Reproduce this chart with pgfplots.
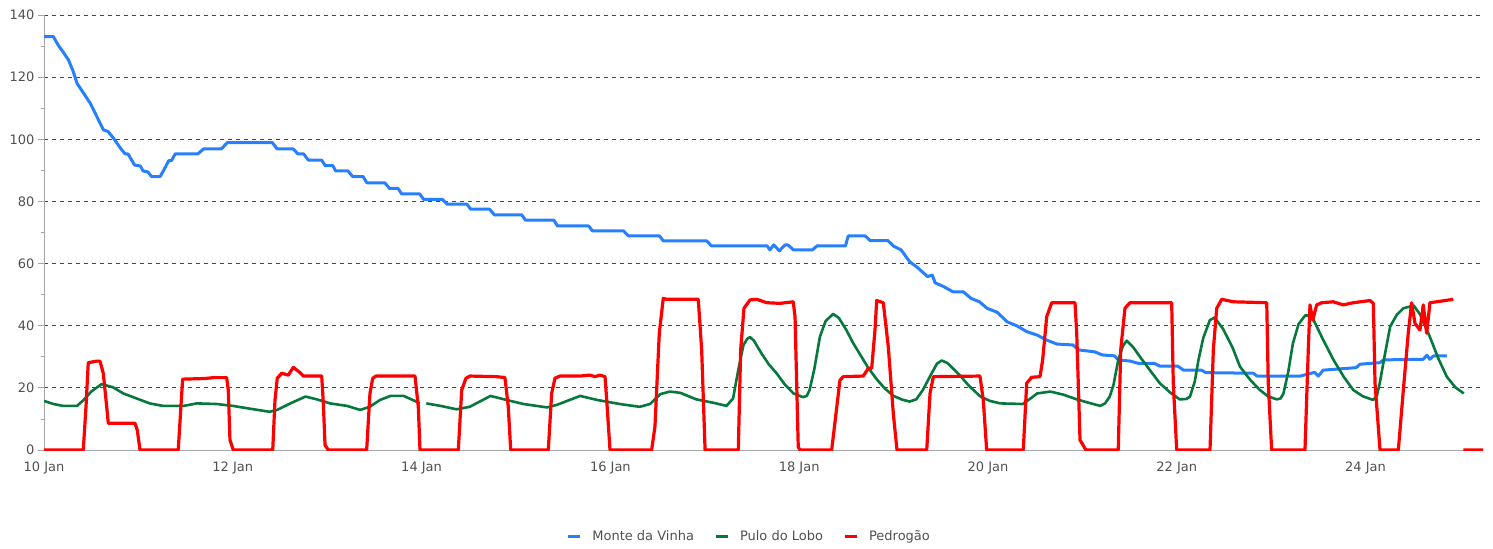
\documentclass[border=0pt]{standalone}
\usepackage{fontspec}
\setmainfont{DejaVu Sans}
\usepackage{pgfplots}
\pgfplotsset{compat=1.18}
\definecolor{cblue}{RGB}{38,127,255}
\definecolor{cgreen}{RGB}{5,120,60}
\definecolor{cred}{RGB}{255,0,0}
\definecolor{gridc}{RGB}{70,70,70}
\definecolor{axc}{RGB}{165,165,165}
\definecolor{txt}{RGB}{80,80,80}
\begin{document}
\begin{tikzpicture}
\begin{axis}[
  scale only axis, width=1439pt, height=435pt,
  xmin=0, xmax=15.244, ymin=0, ymax=140,
  axis x line*=bottom, axis y line*=left,
  axis line style={axc, line width=1pt},
  ytick={20,40,...,140}, minor ytick={10,30,...,130},
  extra y ticks={0}, extra y tick style={grid=none},
  ymajorgrids,
  major grid style={gridc, dash pattern=on 4pt off 4pt, line width=0.9pt},
  tick align=outside, major tick length=6pt, minor tick length=3.5pt,
  ytick style={axc, line width=0.8pt},
  xtick={0,2,...,14},
  xticklabels={10 Jan,12 Jan,14 Jan,16 Jan,18 Jan,20 Jan,22 Jan,24 Jan},
  xtick style={draw=none},
  ticklabel style={font=\fontsize{13}{15}\selectfont, text=txt},
  xticklabel style={yshift=-2pt},
  /pgf/number format/assume math mode=true,
  unbounded coords=jump,
  legend style={at={(0.490,-0.198)}, anchor=center, draw=none, fill=none,
    font=\fontsize{13}{15}\selectfont, text=txt,
    /tikz/every odd column/.append style={column sep=9pt},
    /tikz/every even column/.append style={column sep=18pt}},
  legend columns=3,
  legend image code/.code={\draw[#1, line width=3pt] (0pt,0pt) -- (12pt,0pt);},
  line join=round,
]
\coordinate (bl) at (rel axis cs:0,0);
\coordinate (tr) at (rel axis cs:1,1);

\addplot[cblue, line width=3pt] coordinates {
(0,133) (0.10,133) (0.15,130.3) (0.20,128.2) (0.26,125.5) (0.31,121.8) (0.35,118)
(0.42,114.8) (0.49,111.6) (0.56,107.3) (0.63,103) (0.68,102.5) (0.75,99.8) (0.81,97.1)
(0.86,95.3) (0.89,95.3) (0.96,91.7) (1.02,91.4) (1.05,89.8) (1.10,89.5) (1.14,88)
(1.23,88) (1.28,90.7) (1.32,93.1) (1.35,93.1) (1.39,95.3) (1.63,95.3) (1.69,96.9)
(1.88,96.9) (1.94,98.9) (2.42,98.9) (2.47,96.9) (2.64,96.9) (2.69,95.3) (2.75,95.3)
(2.80,93.3) (2.94,93.3) (2.98,91.5) (3.06,91.5) (3.09,89.8) (3.22,89.8) (3.27,88)
(3.38,88) (3.42,86) (3.61,86) (3.66,84.2) (3.75,84.2) (3.79,82.4) (3.98,82.4)
(4.02,80.7) (4.22,80.7) (4.27,79.1) (4.48,79.1) (4.52,77.5) (4.72,77.5) (4.77,75.7)
(5.06,75.7) (5.10,74.0) (5.40,74.0) (5.44,72.1) (5.77,72.1) (5.81,70.5) (6.14,70.5)
(6.19,68.9) (6.52,68.9) (6.56,67.3) (7.02,67.3) (7.07,65.7) (7.66,65.7) (7.69,64.4)
(7.73,66) (7.79,64.1) (7.85,66) (7.88,66) (7.94,64.4) (8.14,64.4) (8.19,65.7)
(8.49,65.7) (8.52,68.9) (8.70,68.9) (8.75,67.4) (8.94,67.4) (9.00,65.6) (9.08,64.4)
(9.17,60.6) (9.25,58.8) (9.36,55.8) (9.41,56.3) (9.44,53.8) (9.53,52.6) (9.63,50.9)
(9.74,50.9) (9.82,48.8) (9.91,47.7) (9.99,45.6) (10.10,44.3) (10.20,41.3) (10.31,39.9)
(10.41,38.1) (10.52,37) (10.62,35.4) (10.73,34.1) (10.90,33.8) (10.96,32.2) (11.13,31.6)
(11.21,30.6) (11.34,30.3) (11.38,29) (11.51,28.6) (11.59,27.9) (11.76,27.9) (11.82,27)
(12.01,27) (12.07,25.7) (12.26,25.7) (12.31,24.9) (12.81,24.7) (12.85,23.8) (13.31,23.8)
(13.46,25) (13.50,23.8) (13.55,25.7) (13.90,26.5) (13.94,27.6) (14.15,28.1) (14.19,29)
(14.61,29.2) (14.65,30.5) (14.68,29.2) (14.72,30.3) (14.86,30.3)
};
\addlegendentry{Monte da Vinha}

\addplot[cgreen, line width=2.6pt] coordinates {
(0,15.8) (0.10,14.8) (0.20,14.2) (0.35,14.2) (0.42,16.1) (0.50,18.8) (0.61,21.2)
(0.73,20.2) (0.84,18.2) (0.98,16.6) (1.12,15) (1.26,14.2) (1.48,14.2) (1.62,15)
(1.83,14.8) (2.00,14.2) (2.18,13.3) (2.39,12.3) (2.47,12.9) (2.61,15) (2.77,17.2)
(2.89,16.3) (3.03,15) (3.21,14.2) (3.35,12.9) (3.45,13.9) (3.56,16.1) (3.67,17.4)
(3.81,17.4) (3.95,15.5) (3.98,15)
(4.01,nan)
(4.05,15) (4.20,14.2) (4.37,13.1) (4.51,13.9) (4.73,17.4) (4.90,16.1) (5.08,14.8)
(5.33,13.7) (5.43,14.5) (5.68,17.4) (5.86,16.1) (6.10,14.8) (6.31,13.9) (6.42,14.8)
(6.53,18) (6.63,18.8) (6.74,18.4) (6.91,16.3) (7.09,15.2) (7.23,14.2) (7.30,16.6)
(7.35,25) (7.38,29.5) (7.41,33.8) (7.45,35.8) (7.48,36.3) (7.52,35.2) (7.60,31.1)
(7.68,27.5) (7.76,24.7) (7.85,21) (7.94,18.2) (8.04,17) (8.08,17.4) (8.11,19.3)
(8.16,26) (8.22,36.5) (8.28,41.5) (8.36,43.8) (8.42,42.5) (8.50,38.6) (8.57,34.5)
(8.64,31) (8.73,26.5) (8.82,22.8) (8.91,19.7) (9.00,17.4) (9.09,16.2) (9.17,15.6)
(9.24,16.3) (9.31,19.3) (9.40,24.5) (9.46,27.8) (9.51,28.8) (9.57,28) (9.70,24.1)
(9.80,20.6) (9.92,17.2) (10.02,15.8) (10.13,15) (10.37,14.8) (10.46,16.8) (10.52,18.2)
(10.66,18.8) (10.80,17.8) (10.94,16.3) (11.09,15) (11.19,14.2) (11.24,15) (11.29,17.2)
(11.33,21) (11.38,29) (11.43,33.5) (11.47,35.2) (11.54,33) (11.61,30) (11.72,25.5)
(11.82,21.5) (11.93,18.5) (12.03,16.3) (12.10,16.4) (12.14,17.2) (12.19,22) (12.23,29)
(12.28,36) (12.35,41.8) (12.40,42.6) (12.49,39) (12.59,33) (12.67,26.8) (12.78,22.5)
(12.88,19.3) (12.97,17.2) (13.06,16.3) (13.10,16.6) (13.13,18.2) (13.18,25) (13.23,34.3)
(13.29,40.5) (13.36,43.3) (13.40,43.3) (13.45,41.8) (13.55,35.5) (13.66,29) (13.77,23.5)
(13.87,19.3) (13.97,17.3) (14.08,16.1) (14.12,17.5) (14.15,21.5) (14.20,30) (14.26,39.7)
(14.33,43.5) (14.40,45.6) (14.51,46.5) (14.58,43.5) (14.68,36.5) (14.77,29.5) (14.86,23.6)
(14.95,20.2) (15.04,18.2)
};
\addlegendentry{Pulo do Lobo}

\addplot[cred, line width=3.2pt] coordinates {
(0,0) (0.416,0) (0.445,14) (0.469,28.1) (0.558,28.6) (0.593,28.6) (0.628,24.7)
(0.664,14) (0.681,8.6) (0.964,8.6) (0.988,6.4) (1.017,0) (1.422,0) (1.459,18.2)
(1.469,22.8) (1.70,23) (1.80,23.3) (1.935,23.3) (1.952,19.3) (1.970,3.2) (2.005,0) (2.423,0)
(2.447,16.1) (2.471,23.1) (2.518,24.7) (2.588,24.1) (2.641,26.6) (2.712,24.9) (2.747,23.8)
(2.942,23.8) (2.959,15) (2.977,1.6) (3.012,0) (3.418,0) (3.453,18.2) (3.482,23.1)
(3.517,23.8) (3.930,23.8) (3.965,14) (3.983,0) (4.389,0) (4.425,19.3) (4.470,23.1)
(4.513,23.8) (4.796,23.6) (4.883,23.3) (4.918,14) (4.944,0) (5.342,0) (5.378,18.2)
(5.413,23.1) (5.466,23.8) (5.678,23.8) (5.784,24.1) (5.837,23.6) (5.890,24.1) (5.943,23.6)
(5.961,16.1) (5.996,0) (6.437,0) (6.472,7.5) (6.518,37.6) (6.560,48.8) (6.596,48.5)
(6.931,48.5) (6.967,32.2) (7.003,0) (7.355,0) (7.380,32.2) (7.415,45.6) (7.479,48.3)
(7.550,48.5) (7.656,47.4) (7.797,47.2) (7.937,47.7) (7.956,42.9) (7.990,1) (8.008,0)
(8.344,0) (8.432,22.5) (8.467,23.6) (8.679,23.8) (8.732,26.3) (8.768,26.3) (8.803,38.6)
(8.821,48.1) (8.891,47.4) (8.944,33.2) (8.997,11.8) (9.036,0) (9.351,0) (9.386,18.2)
(9.421,23.6) (9.915,23.8) (9.950,16.1) (9.986,0) (10.374,0) (10.410,21.5) (10.463,23.4)
(10.551,23.6) (10.579,29) (10.622,42.9) (10.675,47.4) (10.922,47.4) (10.940,37.6)
(10.975,3.2) (11.038,0) (11.380,0) (11.406,32.2) (11.451,45.6) (11.504,47.4) (11.946,47.4)
(11.963,21.5) (11.999,0) (12.352,0) (12.387,32.2) (12.423,45.6) (12.476,48.5) (12.599,47.7)
(12.953,47.4) (12.969,21.5) (13.005,0) (13.358,0) (13.393,32.2) (13.411,46.7) (13.440,41.8)
(13.482,46.7) (13.535,47.4) (13.658,47.7) (13.764,46.7) (13.870,47.4) (14.047,48.1)
(14.082,47.2) (14.100,21.5) (14.153,0) (14.347,0) (14.400,19.3) (14.452,37.6) (14.488,47.4)
(14.523,40.8) (14.576,38.6) (14.611,46.7) (14.647,37.6) (14.682,47.4) (14.753,47.7)
(14.929,48.5)
(14.98,nan)
(15.035,0) (15.244,0)
};
\addlegendentry{Pedrogão}
\end{axis}
\pgfresetboundingbox
\path[use as bounding box] ([xshift=-44pt,yshift=-98pt]bl) rectangle ([xshift=10pt,yshift=15pt]tr);
\end{tikzpicture}
\end{document}
